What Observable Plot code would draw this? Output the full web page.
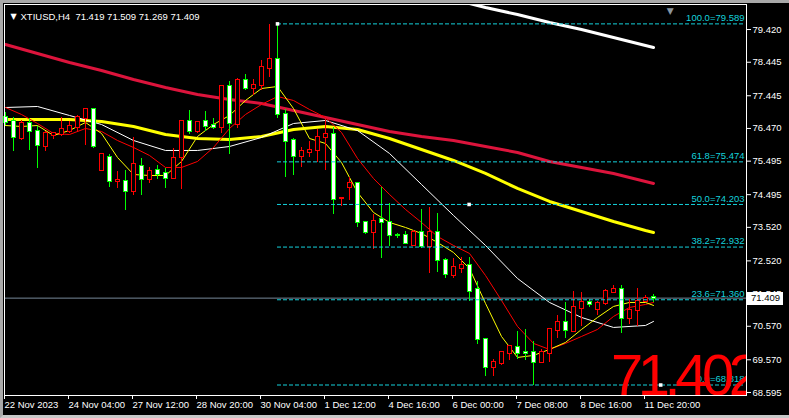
<!DOCTYPE html>
<html><head><meta charset="utf-8">
<script src="https://cdn.jsdelivr.net/npm/d3@7"></script>
<script src="https://cdn.jsdelivr.net/npm/@observablehq/plot@0.6"></script>
<style>
html,body{margin:0;padding:0;background:#000;}
#wrap{position:relative;width:789px;height:418px;overflow:hidden;}
#wrap svg{display:block;}
#edge{position:absolute;left:0;top:0;width:789px;height:418px;box-sizing:border-box;border-left:3px solid #a8a8a8;border-top:3px solid #a8a8a8;border-bottom:3px solid #c8c8c8;pointer-events:none;}
</style></head><body>
<div id="wrap"><div id="edge"></div></div>
<script>
// ---- candles (H4 bars, index 0 = 22 Nov 2023 00:00) ----
const opens = [76.797,76.678,76.171,76.618,76.380,75.932,76.260,76.290,76.380,76.499,
 76.767,77.036,75.217,75.604,74.889,74.889,74.590,75.336,74.948,75.217,
 75.127,74.978,75.604,76.678,76.380,76.678,76.558,76.499,77.721,76.588,
 77.900,77.662,77.751,78.258,78.527,76.887,76.111,75.634,75.753,75.813,
 76.201,76.290,74.367,74.710,74.829,73.666,73.368,73.755,73.666,73.278,
 73.278,72.980,73.368,72.950,73.368,72.533,72.085,72.294,72.384,71.668,
 70.177,69.342,69.461,69.760,69.938,69.789,69.789,69.491,69.760,70.445,
 70.684,70.416,71.101,71.280,71.072,71.251,71.579,71.668,70.803,71.042,
 71.310,71.419];
const highs = [76.946,76.797,76.708,76.767,76.529,76.380,76.350,76.797,76.678,76.857,
 77.036,77.065,75.694,75.694,75.187,75.217,76.201,75.574,75.306,75.366,
 75.276,75.873,76.708,77.006,76.678,76.976,76.767,77.751,77.871,77.960,
 78.079,77.930,78.497,79.570,79.589,77.036,76.171,75.902,76.081,76.439,
 76.737,76.499,74.411,75.008,74.850,73.696,73.905,74.710,74.233,73.338,
 73.398,73.427,74.054,74.113,73.934,72.592,72.592,72.622,72.622,71.907,
 70.190,69.581,69.819,69.968,70.416,70.475,70.117,69.879,70.475,70.893,
 71.280,71.608,71.579,71.370,71.310,71.668,71.787,71.787,71.370,71.698,
 71.489,71.509];
const lows = [76.558,75.783,76.111,75.813,75.276,75.783,76.141,76.230,76.320,76.350,
 75.962,75.873,75.217,74.710,74.680,74.024,74.471,74.471,74.829,74.948,
 74.680,74.948,74.650,76.290,76.320,76.380,76.439,76.320,75.694,76.469,
 77.602,77.453,77.602,77.990,76.767,75.008,75.067,75.306,75.604,75.455,
 75.217,73.905,74.143,74.322,73.517,73.308,72.861,72.592,72.950,73.189,
 73.040,72.950,72.891,72.145,72.175,71.996,71.996,72.145,71.310,70.028,
 69.074,69.074,69.402,69.551,69.581,69.551,68.818,69.461,69.491,70.207,
 70.207,70.386,70.565,71.131,70.893,71.191,71.549,70.356,70.624,70.565,
 71.280,71.269];
const closes = [76.648,76.201,76.618,76.380,75.962,76.320,76.320,76.439,76.529,76.797,
 77.036,75.932,75.694,74.889,74.918,74.590,75.396,74.948,75.187,75.097,
 74.978,75.574,76.678,76.380,76.648,76.529,76.499,77.721,76.618,77.900,
 77.662,77.751,78.288,78.527,76.887,76.081,75.634,75.783,75.813,76.201,
 76.290,74.352,74.382,74.829,73.666,73.368,73.696,73.666,73.278,73.263,
 73.040,73.368,72.950,73.368,72.533,72.115,72.324,72.384,71.608,70.177,
 69.342,69.491,69.789,69.968,69.760,69.760,69.491,69.789,70.475,70.684,
 70.445,71.131,71.280,71.221,71.251,71.608,71.668,70.803,71.042,71.310,
 71.400,71.409];

// ---- moving averages ----
const maStep4Bars = [0,4,8,12,16,20,24,28,32,36,40,44,48,52,56,60,64,68,72,76,80,81];
const maCrimson = [78.974,78.706,78.437,78.199,77.930,77.692,77.483,77.334,77.215,77.006,76.797,
 76.588,76.380,76.230,76.111,75.932,75.753,75.485,75.306,75.127,74.889,74.829];
const maYellowThick = [76.737,76.737,76.737,76.678,76.529,76.290,76.171,76.141,76.230,76.439,76.529,
 76.439,76.171,75.843,75.515,75.127,74.680,74.292,73.994,73.696,73.427,73.368];
const maWhiteThin = [77.095,77.125,76.857,76.588,76.111,75.813,75.813,75.932,76.201,76.618,76.708,
 76.409,75.724,74.799,73.875,72.980,71.996,71.280,70.833,70.535,70.594,70.714];
const maStep2Bars = [0,2,4,6,8,10,12,14,16,18,20,22,24,26,28,30,32,34,36,38,40,
 42,44,46,48,50,52,54,56,58,60,62,64,66,68,70,72,74,76,78,80,81];
const maRedThin = [77.095,76.887,76.618,76.320,76.290,76.469,76.380,76.111,75.902,75.664,75.306,
 75.306,75.485,75.902,76.469,76.887,77.185,77.423,77.304,77.036,76.797,
 76.350,75.574,74.978,74.501,74.054,73.666,73.248,72.980,72.742,72.085,
 71.340,70.565,70.058,69.879,70.058,70.266,70.475,70.863,71.131,71.221,71.280];
const maYellowThin = [76.558,76.529,76.558,76.260,76.409,76.648,76.320,75.604,75.097,75.067,75.067,
 75.485,76.230,76.588,76.857,77.304,77.662,77.721,77.065,76.171,76.022,
 75.455,74.561,73.964,73.666,73.517,73.338,73.070,72.771,72.294,71.251,
 70.266,69.640,69.700,69.879,70.088,70.475,70.833,71.161,71.280,71.280,71.191];
const maWhiteThickBars = [56,60,64,68,72,76,80,81];
const maWhiteThick = [80.316,80.077,79.869,79.630,79.421,79.183,78.944,78.884];

// ---- fibonacci retracement ----
const fibNames = ["100.0","61.8","50.0","38.2","23.6","0.0"];
const fibValues = [79.589,75.474,74.203,72.932,71.360,68.818];
const fibStartBar = 34, fibEndBar = 81.9;

// ---- axes ----
const yTickValues = [79.420,78.445,77.445,76.470,75.495,74.495,73.520,72.520,71.545,70.570,69.570,68.595];
const xTickBars = [0,8,16,24,32,40,48,56,64,72,80];
const xTickLabels = ["22 Nov 2023","24 Nov 04:00","27 Nov 12:00","28 Nov 20:00","30 Nov 04:00",
 "1 Dec 12:00","4 Dec 16:00","6 Dec 00:00","7 Dec 08:00","8 Dec 16:00","11 Dec 20:00"];
const headerText = "XTIUSD,H4  71.419 71.509 71.269 71.409";
const bidPrice = 71.409;
const bigPriceText = "71.402";

const bars = opens.map((o, i) => ({i, o, h: highs[i], l: lows[i], c: closes[i], up: closes[i] >= o}));
const mk = (xs, ys) => xs.map((x, k) => ({x, y: ys[k]}));
const fib = fibValues.map((v, k) => ({v, label: fibNames[k] + "=" + v.toFixed(3)}));
const anchors = [{x: fibStartBar, y: fibValues[0]}, {x: (fibStartBar + fibEndBar) / 2, y: fibValues[2]}, {x: fibEndBar, y: fibValues[5]}];

const FONT = "'Liberation Sans', Arial, sans-serif";
const CYAN = "#14d2dc";

const chart = Plot.plot({
  width: 789, height: 418,
  marginLeft: 4, marginRight: 43, marginTop: 4, marginBottom: 23,
  x: {domain: [-0.125, 92.625], axis: null},
  y: {domain: [68.505, 80.167], axis: null},
  color: {type: "identity"},
  style: {background: "#000", color: "#fff", fontFamily: FONT, fontSize: "9.5px"},
  marks: [
    Plot.ruleY([bidPrice], {stroke: "#778899"}),
    Plot.line(mk(maStep4Bars, maCrimson), {x: "x", y: "y", stroke: "#dc143c", strokeWidth: 3, clip: true}),
    Plot.line(mk(maStep4Bars, maYellowThick), {x: "x", y: "y", stroke: "#ffff00", strokeWidth: 3, clip: true}),
    Plot.line(mk(maWhiteThickBars, maWhiteThick), {x: "x", y: "y", stroke: "#ffffff", strokeWidth: 3, clip: true}),
    Plot.line(mk(maStep4Bars, maWhiteThin), {x: "x", y: "y", stroke: "#ffffff", strokeWidth: 1, clip: true}),
    Plot.line(mk(maStep2Bars, maRedThin), {x: "x", y: "y", stroke: "#ff0000", strokeWidth: 1, clip: true}),
    Plot.line(mk(maStep2Bars, maYellowThin), {x: "x", y: "y", stroke: "#ffff00", strokeWidth: 1, clip: true}),
    Plot.ruleX(bars, {x: "i", y1: "l", y2: "h", stroke: d => d.up ? "#ff0000" : "#00ff00", shapeRendering: "crispEdges"}),
    Plot.rect(bars, {x1: d => d.i - 0.25, x2: d => d.i + 0.25, y1: "o", y2: "c",
      fill: d => d.up ? "#000" : "#fff", stroke: d => d.up ? "#ff0000" : "#00ff00",
      insetTop: -0.5, insetBottom: -0.5, shapeRendering: "crispEdges"}),
    Plot.ruleY(fib, {y: "v", x1: fibStartBar, x2: 92.4, stroke: CYAN, strokeDasharray: "4,2"}),
    Plot.text(fib, {y: "v", text: "label", frameAnchor: "right", textAnchor: "end", dx: -2, dy: -6, fill: CYAN}),
    Plot.dot(anchors, {x: "x", y: "y", symbol: "square", r: 2, fill: "#fff", stroke: null}),
    Plot.text([bigPriceText], {x: 75.7, y: 68.505, text: d => d, textAnchor: "start", lineAnchor: "bottom",
      fontSize: 58, fontFamily: "'Liberation Sans Narrow', 'Liberation Sans', Arial", fill: "#ff0000", clip: true, dy: -1}),
    Plot.text(["▼"], {frameAnchor: "top-left", dx: 6, dy: 9, text: d => d, fill: "#fff", fontSize: 8, fontFamily: "DejaVu Sans"}),
    Plot.text([headerText], {frameAnchor: "top-left", dx: 16, dy: 9, text: d => d, textAnchor: "start", fill: "#fff"}),
    Plot.text(["▼"], {x: 83.1, frameAnchor: "top", dy: 3, text: d => d, fill: "#8a96a0", fontSize: 9, fontFamily: "DejaVu Sans"}),
    Plot.frame({stroke: "#fff"}),
    Plot.axisY(yTickValues, {anchor: "right", tickSize: 4, tickPadding: 2, tickFormat: d => d.toFixed(3), color: "#fff"}),
    Plot.axisX(xTickBars, {anchor: "bottom", tickSize: 4, tickPadding: 2, textAnchor: "start", dx: -1,
      tickFormat: d => xTickLabels[xTickBars.indexOf(d)], color: "#fff"})
  ]
});
document.getElementById("wrap").prepend(chart);
d3.select(chart).selectAll("text")
  .filter(function () { return this.textContent === bigPriceText; })
  .style("letter-spacing", "-5.5px");

// current-price box on the price axis
const yb = chart.scale("y").apply(bidPrice);
const xr = chart.scale("x").apply(92.625);
const g = d3.select(chart).append("g");
g.append("rect").attr("x", xr + 1).attr("y", Math.round(yb) - 6).attr("width", 36).attr("height", 13).attr("fill", "#fff");
g.append("text").attr("x", xr + 5).attr("y", yb).attr("dy", "0.35em").attr("fill", "#000")
  .attr("text-anchor", "start").attr("font-family", FONT).attr("font-size", "9.5px").text(bidPrice.toFixed(3));
</script>
</body></html>
